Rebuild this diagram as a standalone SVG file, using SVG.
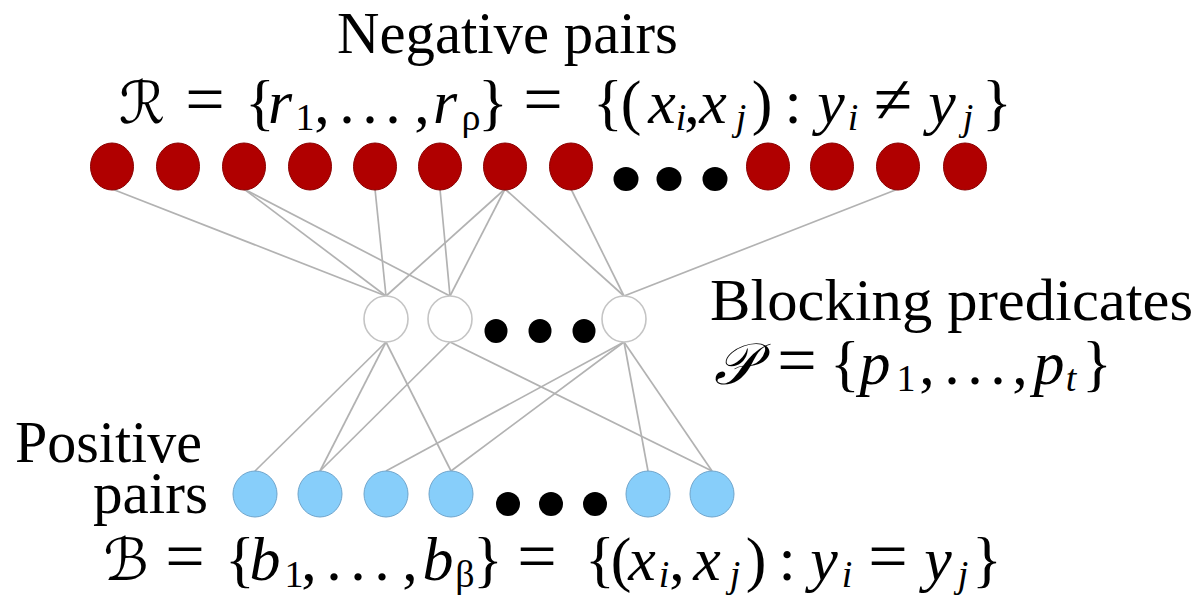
<svg xmlns="http://www.w3.org/2000/svg" width="1198" height="598" viewBox="0 0 1198 598">
<style>
.neg{fill:#b00000;stroke:#8a0000;stroke-width:1}
.pos{fill:#87cefa;stroke:#6fa5cc;stroke-width:1}
.pred{fill:#fff;stroke:#c4c4c4;stroke-width:1.6}
.dot{fill:#000}
.edge{stroke:#b2b2b2;stroke-width:1.7;fill:none}
text{font-family:"Liberation Serif","Times New Roman",serif;fill:#000}
.lbl{font-size:60px}
.m{font-size:62px;text-anchor:middle}
.eq{font-size:70px;text-anchor:middle}
.mi{font-size:62px;text-anchor:middle;font-style:italic}
.s{font-size:38px;text-anchor:middle}
.si{font-size:38px;text-anchor:middle;font-style:italic}
.scr{font-family:"DejaVu Serif","DejaVu Sans","Noto Sans",serif;font-size:58px;font-style:italic;text-anchor:middle}
</style>
<rect width="1198" height="598" fill="#fff"/>
<g id="connectors">
<line class="edge" x1="112" y1="189" x2="386" y2="296"/>
<line class="edge" x1="244" y1="189" x2="386" y2="296"/>
<line class="edge" x1="244" y1="189" x2="450" y2="296"/>
<line class="edge" x1="375" y1="189" x2="386" y2="296"/>
<line class="edge" x1="440" y1="189" x2="450" y2="296"/>
<line class="edge" x1="505" y1="189" x2="386" y2="296"/>
<line class="edge" x1="505" y1="189" x2="450" y2="296"/>
<line class="edge" x1="505" y1="189" x2="624" y2="296"/>
<line class="edge" x1="571" y1="189" x2="624" y2="296"/>
<line class="edge" x1="898" y1="189" x2="624" y2="296"/>
<line class="edge" x1="386" y1="342" x2="255" y2="471"/>
<line class="edge" x1="386" y1="342" x2="320" y2="471"/>
<line class="edge" x1="386" y1="342" x2="451" y2="471"/>
<line class="edge" x1="450" y1="342" x2="320" y2="471"/>
<line class="edge" x1="450" y1="342" x2="712" y2="471"/>
<line class="edge" x1="624" y1="342" x2="386" y2="471"/>
<line class="edge" x1="624" y1="342" x2="451" y2="471"/>
<line class="edge" x1="624" y1="342" x2="648" y2="471"/>
<line class="edge" x1="624" y1="342" x2="712" y2="471"/>
</g>
<g id="negative-pairs">
<ellipse id="r1" class="neg" cx="112" cy="166.5" rx="21.5" ry="23.5"/>
<ellipse id="r2" class="neg" cx="178" cy="166.5" rx="21.5" ry="23.5"/>
<ellipse id="r3" class="neg" cx="244" cy="166.5" rx="21.5" ry="23.5"/>
<ellipse id="r4" class="neg" cx="310" cy="166.5" rx="21.5" ry="23.5"/>
<ellipse id="r5" class="neg" cx="375" cy="166.5" rx="21.5" ry="23.5"/>
<ellipse id="r6" class="neg" cx="440" cy="166.5" rx="21.5" ry="23.5"/>
<ellipse id="r7" class="neg" cx="505" cy="166.5" rx="21.5" ry="23.5"/>
<ellipse id="r8" class="neg" cx="571" cy="166.5" rx="21.5" ry="23.5"/>
<ellipse class="dot" cx="626" cy="179" rx="12.5" ry="12"/>
<ellipse class="dot" cx="669" cy="179" rx="12.5" ry="12"/>
<ellipse class="dot" cx="715" cy="179" rx="12.5" ry="12"/>
<ellipse id="r9" class="neg" cx="768" cy="166.5" rx="21.5" ry="23.5"/>
<ellipse id="r10" class="neg" cx="832" cy="166.5" rx="21.5" ry="23.5"/>
<ellipse id="r11" class="neg" cx="898" cy="166.5" rx="21.5" ry="23.5"/>
<ellipse id="r12" class="neg" cx="965" cy="166.5" rx="21.5" ry="23.5"/>
</g>
<g id="predicates">
<ellipse id="p1" class="pred" cx="386" cy="319" rx="22" ry="23"/>
<ellipse id="p2" class="pred" cx="450" cy="319" rx="22" ry="23"/>
<ellipse class="dot" cx="496" cy="331" rx="11.5" ry="12"/>
<ellipse class="dot" cx="540" cy="331" rx="11.5" ry="12"/>
<ellipse class="dot" cx="584" cy="331" rx="11.5" ry="12"/>
<ellipse id="pt" class="pred" cx="624" cy="319" rx="22" ry="23"/>
</g>
<g id="positive-pairs">
<ellipse id="b1" class="pos" cx="255" cy="494" rx="22" ry="23"/>
<ellipse id="b2" class="pos" cx="320" cy="494" rx="22" ry="23"/>
<ellipse id="b3" class="pos" cx="386" cy="494" rx="22" ry="23"/>
<ellipse id="b4" class="pos" cx="451" cy="494" rx="22" ry="23"/>
<ellipse class="dot" cx="508" cy="504" rx="12" ry="12"/>
<ellipse class="dot" cx="551" cy="504" rx="12" ry="12"/>
<ellipse class="dot" cx="595" cy="504" rx="12" ry="12"/>
<ellipse id="b5" class="pos" cx="648" cy="494" rx="22" ry="23"/>
<ellipse id="b6" class="pos" cx="712" cy="494" rx="22" ry="23"/>
</g>
<g id="labels">
<text class="lbl" x="337" y="53" textLength="341" lengthAdjust="spacingAndGlyphs">Negative pairs</text>
<text class="lbl" x="710" y="320" textLength="483" lengthAdjust="spacingAndGlyphs">Blocking predicates</text>
<text class="lbl" x="15" y="462" textLength="187" lengthAdjust="spacingAndGlyphs">Positive</text>
<text class="lbl" x="93" y="513" textLength="115" lengthAdjust="spacingAndGlyphs">pairs</text>
</g>
<g id="set-R">
<text class="scr" x="142" y="123">ℛ</text>
<text class="eq" x="205" y="123">=</text>
<text class="m" x="260" y="123">{</text>
<text class="mi" x="280" y="123">r</text>
<text class="s" x="305" y="130">1</text>
<text class="m" x="322" y="123">,</text>
<text class="m" x="347" y="123">.</text>
<text class="m" x="370" y="123">.</text>
<text class="m" x="393" y="123">.</text>
<text class="m" x="422" y="123">,</text>
<text class="mi" x="445" y="123">r</text>
<text class="s" x="471" y="130">ρ</text>
<text class="m" x="493" y="123">}</text>
<text class="eq" x="543" y="123">=</text>
<text class="m" x="608" y="123">{</text>
<text class="m" x="631" y="123">(</text>
<text class="mi" x="662" y="123">x</text>
<text class="si" x="681" y="130">i</text>
<text class="m" x="692" y="123">,</text>
<text class="mi" x="713" y="123">x</text>
<text class="si" x="741" y="130">j</text>
<text class="m" x="762" y="123">)</text>
<text class="m" x="793" y="123">:</text>
<text class="mi" x="831" y="123">y</text>
<text class="si" x="853" y="130">i</text>
<text class="eq" x="893" y="123">≠</text>
<text class="mi" x="942" y="123">y</text>
<text class="si" x="968" y="130">j</text>
<text class="m" x="997" y="123">}</text>
</g>
<g id="set-P">
<text class="scr" x="735" y="384">𝒫</text>
<text class="eq" x="797" y="384">=</text>
<text class="m" x="845" y="384">{</text>
<text class="mi" x="875" y="384">p</text>
<text class="s" x="906" y="391">1</text>
<text class="m" x="927" y="384">,</text>
<text class="m" x="952" y="384">.</text>
<text class="m" x="975" y="384">.</text>
<text class="m" x="998" y="384">.</text>
<text class="m" x="1020" y="384">,</text>
<text class="mi" x="1049" y="384">p</text>
<text class="si" x="1071" y="391">t</text>
<text class="m" x="1097" y="384">}</text>
</g>
<g id="set-B">
<text class="scr" x="126" y="580">ℬ</text>
<text class="eq" x="185" y="580">=</text>
<text class="m" x="240" y="580">{</text>
<text class="mi" x="265" y="580">b</text>
<text class="s" x="294" y="587">1</text>
<text class="m" x="309" y="580">,</text>
<text class="m" x="334" y="580">.</text>
<text class="m" x="358" y="580">.</text>
<text class="m" x="382" y="580">.</text>
<text class="m" x="410" y="580">,</text>
<text class="mi" x="438" y="580">b</text>
<text class="s" x="465" y="587">β</text>
<text class="m" x="488" y="580">}</text>
<text class="eq" x="537" y="580">=</text>
<text class="m" x="600" y="580">{</text>
<text class="m" x="621" y="580">(</text>
<text class="mi" x="642" y="580">x</text>
<text class="si" x="664" y="587">i</text>
<text class="m" x="677" y="580">,</text>
<text class="mi" x="707" y="580">x</text>
<text class="si" x="735" y="587">j</text>
<text class="m" x="756" y="580">)</text>
<text class="m" x="787" y="580">:</text>
<text class="mi" x="824" y="580">y</text>
<text class="si" x="847" y="587">i</text>
<text class="eq" x="888" y="580">=</text>
<text class="mi" x="938" y="580">y</text>
<text class="si" x="963" y="587">j</text>
<text class="m" x="987" y="580">}</text>
</g>
</svg>
